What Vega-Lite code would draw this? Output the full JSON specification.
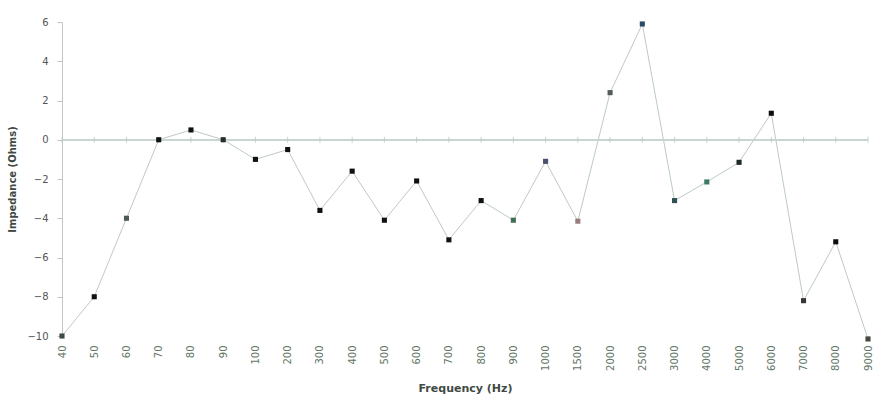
{
  "$schema": "https://vega.github.io/schema/vega-lite/v6.json",
  "autosize": "none",
  "padding": {"left": 62, "top": 22, "right": 9, "bottom": 71},
  "width": 806,
  "height": 314,
  "background": "white",
  "config": {"view": {"stroke": null}, "font": "DejaVu Sans"},
  "data": {"values": [
    {"f": "40", "z": -10},
    {"f": "50", "z": -8},
    {"f": "60", "z": -4},
    {"f": "70", "z": 0},
    {"f": "80", "z": 0.5},
    {"f": "90", "z": 0},
    {"f": "100", "z": -1},
    {"f": "200", "z": -0.5},
    {"f": "300", "z": -3.6},
    {"f": "400", "z": -1.6},
    {"f": "500", "z": -4.1},
    {"f": "600", "z": -2.1},
    {"f": "700", "z": -5.1},
    {"f": "800", "z": -3.1},
    {"f": "900", "z": -4.1},
    {"f": "1000", "z": -1.1},
    {"f": "1500", "z": -4.15},
    {"f": "2000", "z": 2.4},
    {"f": "2500", "z": 5.9},
    {"f": "3000", "z": -3.1},
    {"f": "4000", "z": -2.15},
    {"f": "5000", "z": -1.15},
    {"f": "6000", "z": 1.35},
    {"f": "7000", "z": -8.2},
    {"f": "8000", "z": -5.2},
    {"f": "9000", "z": -10.15}
  ]},
  "encoding": {
    "x": {
      "field": "f", "type": "ordinal", "sort": null,
      "scale": {"type": "point", "padding": 0},
      "axis": {
        "title": "Frequency (Hz)", "labelAngle": -90, "domain": false, "ticks": false,
        "labelPadding": 9, "labelFontSize": 10, "labelColor": "#5f7565",
        "titleFontSize": 11, "titleFontWeight": "bold", "titleColor": "#3f4a44", "titlePadding": 12
      }
    },
    "y": {
      "field": "z", "type": "quantitative",
      "scale": {"domain": [-10, 6], "nice": false, "zero": false},
      "axis": {
        "title": "Impedance (Ohms)", "values": [-10, -8, -6, -4, -2, 0, 2, 4, 6], "tickCount": 9,
        "labelOverlap": false, "labelFlush": false,
        "grid": false, "domainColor": "#c4c4c4", "tickColor": "#c4c4c4", "tickSize": 5,
        "labelFontSize": 10, "labelColor": "#555555", "labelPadding": 9,
        "titleFontSize": 10, "titleFontWeight": "bold", "titleColor": "#3f4a44", "titlePadding": 9
      }
    }
  },
  "layer": [
    {
      "mark": {"type": "line", "color": "#bccbc3", "strokeWidth": 1}
    },
    {
      "mark": {"type": "rule", "color": "#c8d5ce", "strokeWidth": 1},
      "encoding": {"y": {"datum": 0, "type": "quantitative"}, "x": null}
    },
    {
      "mark": {"type": "tick", "orient": "vertical", "color": "#b3c4ba", "size": 6, "thickness": 1},
      "encoding": {"y": {"datum": 0, "type": "quantitative"}}
    },
    {
      "mark": {"type": "square", "size": 26, "opacity": 1},
      "encoding": {
        "color": {
          "field": "f", "type": "nominal", "legend": null,
          "scale": {
            "domain": ["40","50","60","70","80","90","100","200","300","400","500","600","700","800","900","1000","1500","2000","2500","3000","4000","5000","6000","7000","8000","9000"],
            "range": ["#3b4a42","#111111","#4a5a52","#111111","#111111","#2a2a2a","#111111","#111111","#111111","#111111","#111111","#111111","#111111","#111111","#3f6e52","#4a5070","#9a7c7c","#555a55","#2c4a68","#2f5252","#3f7a68","#1d2b24","#0d0d0d","#363636","#0d0d0d","#484440"]
          }
        }
      }
    }
  ]
}
